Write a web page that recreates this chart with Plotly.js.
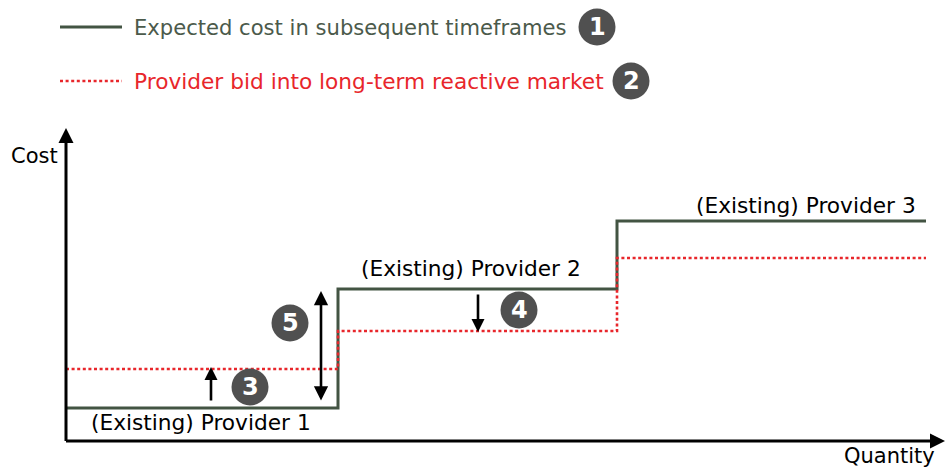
<!DOCTYPE html>
<html>
<head>
<meta charset="utf-8">
<script src="https://cdn.plot.ly/plotly-3.0.1.min.js"></script>
<style>html,body{margin:0;padding:0;background:#fff;}#chart{width:946px;height:470px;}</style>
</head>
<body>
<div id="chart"></div>
<script>
// Quantity breakpoints (arbitrary units) where each provider's block starts / the curve ends
const quantityBreaks = [0, 272, 551, 860];
// Expected cost in subsequent timeframes (step values per provider, last repeats to close the step)
const expectedCost = [33, 152, 220, 220];
// Provider bid into long-term reactive market
const providerBid = [72, 110, 183, 183];
const seriesNames = ["Expected cost in subsequent timeframes", "Provider bid into long-term reactive market"];
const providerLabels = ["(Existing) Provider 1", "(Existing) Provider 2", "(Existing) Provider 3"];
const axisLabels = {x: "Quantity", y: "Cost"};
const markerNumbers = ["1", "2", "3", "4", "5"];

const GREEN = "#435443";
const GREEN_TXT = "#4b5a4b";
const RED = "#e8262b";
const CIRCLE = "#505050";
const FONT = "DejaVu Sans, Verdana, sans-serif";

const traces = [
  {x: quantityBreaks, y: expectedCost, mode: "lines", line: {shape: "hv", color: GREEN, width: 3},
   name: seriesNames[0], hoverinfo: "skip", cliponaxis: false},
  {x: quantityBreaks, y: providerBid, mode: "lines", line: {shape: "hv", color: RED, width: 2.6, dash: "3px,2.6px"},
   name: seriesNames[1], hoverinfo: "skip", cliponaxis: false}
];

// numbered circle positions (layout, data coords where 1 unit = 1 px)
const circles = [
  {n: markerNumbers[0], x: 531, y: 414},
  {n: markerNumbers[1], x: 565, y: 360},
  {n: markerNumbers[2], x: 184, y: 54},
  {n: markerNumbers[3], x: 453, y: 131},
  {n: markerNumbers[4], x: 224, y: 118}
];
const R = 18.5;

const shapes = [
  {type: "line", xref: "x", yref: "y", x0: -6, x1: 56, y0: 414, y1: 414, line: {color: GREEN, width: 3}},
  {type: "line", xref: "x", yref: "y", x0: -6, x1: 56, y0: 360, y1: 360, line: {color: RED, width: 2.6, dash: "3px,2.6px"}}
];
circles.forEach(c => shapes.push({type: "circle", xref: "x", yref: "y", x0: c.x - R, x1: c.x + R, y0: c.y - R, y1: c.y + R,
  fillcolor: CIRCLE, line: {width: 0}}));

const annotations = [];
function arrow(x, y, ax, ay, w, size, both) {
  annotations.push({x: x, y: y, ax: ax, ay: ay, xref: "x", yref: "y", axref: "x", ayref: "y", text: "",
    showarrow: true, arrowhead: 2, startarrowhead: 2, arrowside: both ? "end+start" : "end",
    arrowwidth: w, arrowsize: size, startarrowsize: size, arrowcolor: "#000", standoff: 0, startstandoff: 0});
}
// axes
arrow(0, 313, 0, -1.5, 3, 1, false);
arrow(879, 0, -1.5, 0, 3, 1, false);
// change arrows
arrow(145, 74, 145, 39, 2.6, 1.0, false);
arrow(412, 109, 412, 148, 2.6, 1.0, false);
arrow(255, 150, 255, 39, 2.6, 1.1, true);

function txt(t, x, y, xa, color, size, bold) {
  annotations.push({text: bold ? "<b>" + t + "</b>" : t, x: x, y: y, xref: "x", yref: "y", showarrow: false,
    xanchor: xa, yanchor: "middle", font: {family: FONT, size: size, color: color}});
}
txt(seriesNames[0], 66, 414, "left", GREEN_TXT, 21.1);
txt(seriesNames[1], 66, 360, "left", RED, 21.7);
txt(axisLabels.y, -6, 285, "right", "#000", 21);
txt(axisLabels.x, 871, -15, "right", "#000", 21);
txt(providerLabels[0], 135, 19, "center", "#000", 21.7);
txt(providerLabels[1], 404.5, 173, "center", "#000", 21.7);
txt(providerLabels[2], 740, 236, "center", "#000", 21.7);
circles.forEach(c => txt(c.n, c.x, c.y, "center", "#fff", 24, true));

const layout = {
  width: 946, height: 470,
  margin: {l: 0, r: 0, t: 0, b: 0},
  paper_bgcolor: "#fff", plot_bgcolor: "#fff",
  showlegend: false,
  xaxis: {range: [-66, 880], visible: false, fixedrange: true},
  yaxis: {range: [-29, 441], visible: false, fixedrange: true},
  shapes: shapes,
  annotations: annotations,
  font: {family: FONT}
};
Plotly.newPlot("chart", traces, layout, {staticPlot: true, displayModeBar: false});
</script>
</body>
</html>
